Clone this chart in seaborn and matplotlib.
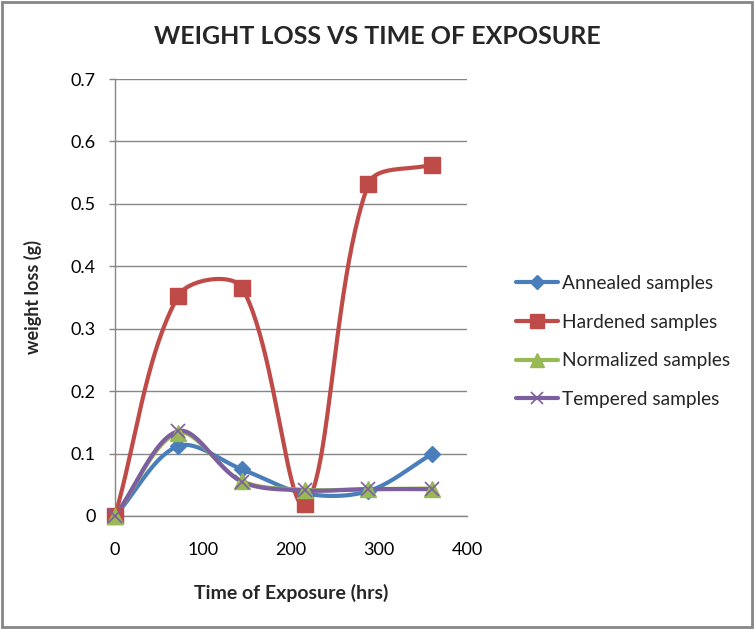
import numpy as np
import pandas as pd
import matplotlib
matplotlib.use("Agg")
import matplotlib.pyplot as plt
from matplotlib.patches import Rectangle
from matplotlib.lines import Line2D
import seaborn as sns

hours = [0, 72, 144, 216, 288, 360]
annealed = [0.0, 0.112, 0.075, 0.036, 0.040, 0.099]
hardened = [0.0, 0.353, 0.366, 0.019, 0.532, 0.563]
normalized = [0.0, 0.133, 0.056, 0.042, 0.043, 0.044]
tempered = [0.0, 0.136, 0.055, 0.041, 0.043, 0.043]

series_names = ["Annealed samples", "Hardened samples", "Normalized samples", "Tempered samples"]
series_values = [annealed, hardened, normalized, tempered]
colors = ["#4A7EBB", "#BE4B48", "#98B954", "#7D5FA0"]
markers = ["D", "s", "^", "x"]
msizes = [8, 11, 11, 10]

XMAX, YMAX = 400, 0.7
AX_W, AX_H = 467 - 115, 516 - 79  # pixels


def smooth(x, y, n=50):
    # Excel-like smoothing: Bezier control points scaled by chord lengths (screen space)
    sx = np.asarray(x, float) * AX_W / XMAX
    sy = np.asarray(y, float) * AX_H / YMAX
    P = np.column_stack([sx, sy])
    P = np.vstack([P[0], P, P[-1]])
    t = np.linspace(0, 1, n)[:, None]
    out = []
    for i in range(1, len(P) - 2):
        p0, p1, p2, p3 = P[i - 1], P[i], P[i + 1], P[i + 2]
        d01 = np.linalg.norm(p1 - p0)
        d12 = np.linalg.norm(p2 - p1)
        d23 = np.linalg.norm(p3 - p2)
        f1 = d12 / (3 * (d01 + d12)) if d01 + d12 > 0 else 0
        f2 = d12 / (3 * (d12 + d23)) if d12 + d23 > 0 else 0
        b1 = p1 + (p2 - p0) * f1
        b2 = p2 - (p3 - p1) * f2
        b = (1 - t) ** 3 * p1 + 3 * (1 - t) ** 2 * t * b1 + 3 * (1 - t) * t ** 2 * b2 + t ** 3 * p2
        out.append(b)
    out = np.vstack(out)
    return out[:, 0] * XMAX / AX_W, out[:, 1] * YMAX / AX_H


sns.set_theme(style="white")
plt.rcParams['font.family'] = ['Lato', 'DejaVu Sans']

fig = plt.figure(figsize=(7.54, 6.30), dpi=100)
ax = fig.add_axes([115 / 754, 1 - 516 / 630, AX_W / 754, AX_H / 630])

rows = []
for name, vals in zip(series_names, series_values):
    cx, cy = smooth(hours, vals)
    for a, b in zip(cx, cy):
        rows.append({"x": a, "y": b, "series": name})
curve_df = pd.DataFrame(rows)
pts_df = pd.DataFrame({
    "x": np.tile(hours, len(series_names)),
    "y": np.concatenate(series_values),
    "series": np.repeat(series_names, len(hours)),
})

pal = dict(zip(series_names, colors))
sns.lineplot(data=curve_df, x="x", y="y", hue="series", palette=pal, sort=False,
             estimator=None, linewidth=3, ax=ax, legend=False)
for name, c, m, ms in zip(series_names, colors, markers, msizes):
    d = pts_df[pts_df.series == name]
    kw = dict(color=c, marker=m, linestyle="none", markersize=ms, zorder=3, clip_on=False)
    if m == "x":
        kw.update(markeredgewidth=1.2)
    else:
        kw.update(markeredgecolor=c)
    ax.plot(d.x, d.y, **kw)

ax.set_xlim(0, XMAX)
ax.set_ylim(0, YMAX)
ax.set_xticks([0, 100, 200, 300, 400])
ax.set_yticks(np.arange(0, 0.71, 0.1))
ax.set_yticklabels(["0", "0.1", "0.2", "0.3", "0.4", "0.5", "0.6", "0.7"])
ax.yaxis.grid(True, color="#868686", linewidth=1)
ax.xaxis.grid(False)
for s in ["top", "right"]:
    ax.spines[s].set_visible(False)
for s in ["left", "bottom"]:
    ax.spines[s].set_color("#868686")
    ax.spines[s].set_linewidth(1)
ax.tick_params(axis="y", labelsize=13, length=4, width=1, direction="out", pad=10, left=True,
               colors="#868686", labelcolor="black")
ax.tick_params(axis="x", labelsize=13, labelcolor="black", length=0, pad=19)
ax.set_xlabel("Time of Exposure (hrs)", fontsize=14, fontweight="bold")
ax.xaxis.set_label_coords(0.5, -(593 - 516) / AX_H)
ax.set_ylabel("weight loss (g)", fontsize=13, fontweight="bold")
ax.yaxis.set_label_coords(-(115 - 33) / AX_W, 0.5)
ax.xaxis.label.set_va("center")
ax.yaxis.label.set_va("center")

fig.text(377 / 754, 1 - 37 / 630, "WEIGHT LOSS VS TIME OF EXPOSURE", ha="center", va="center",
         fontsize=18, fontweight="bold")

handles = [Line2D([0], [0], color=c, marker=m, markersize=ms * 0.9, linewidth=3,
                  markeredgecolor=c, markeredgewidth=1.2 if m == "x" else 1)
           for c, m, ms in zip(colors, markers, msizes)]
fig.legend(handles, series_names, loc="center left", bbox_to_anchor=(516 / 754, 1 - 341.5 / 630),
           frameon=False, fontsize=13.8, handlelength=2.2, handletextpad=0.2, labelspacing=1.13,
           borderpad=0, borderaxespad=0)

fig.patches.append(Rectangle((0.002, 0.004), 0.995, 0.993, transform=fig.transFigure,
                             fill=False, edgecolor="#868686", linewidth=2))
fig.savefig("out.png", dpi=100, facecolor="white")
